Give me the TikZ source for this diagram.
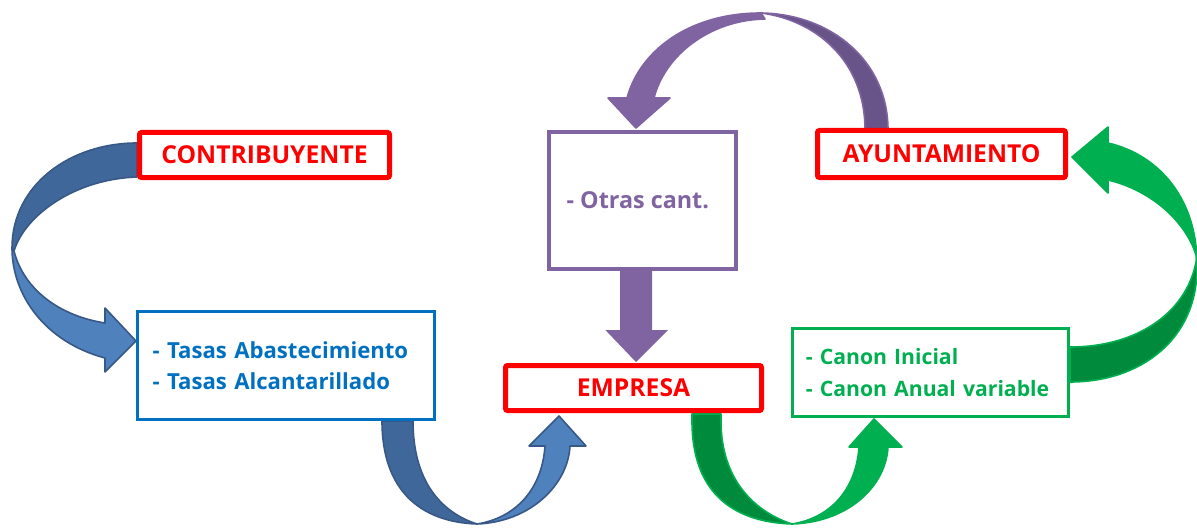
\documentclass[tikz,border=0pt]{standalone}
\usepackage{fontspec}
\setmainfont{Open Sans}
\usetikzlibrary{backgrounds}
\definecolor{boxred}{RGB}{255,0,0}
\definecolor{boxblue}{RGB}{0,112,192}
\definecolor{boxpurple}{RGB}{128,100,162}
\definecolor{boxgreen}{RGB}{0,176,80}
\definecolor{arrblueL}{RGB}{79,129,189}
\definecolor{arrblueD}{RGB}{64,103,153}
\definecolor{arrblueB}{RGB}{56,88,135}
\definecolor{arrpurpleD}{RGB}{104,84,136}
\definecolor{arrgreenD}{RGB}{0,138,60}
\tikzset{
  redbox/.style={draw=boxred, line width=3.75pt, fill=white, rounded corners=1.5pt, text=boxred,
    font=\bfseries\fontsize{18.5}{22}\selectfont, inner sep=0pt},
  listbox/.style={fill=white, align=left, inner ysep=0pt},
  bluearrL/.style={fill=arrblueL, draw=arrblueB, line width=1.2pt, line join=round},
  bluearrD/.style={fill=arrblueD, draw=arrblueB, line width=1.2pt, line join=round},
  purplearrL/.style={fill=boxpurple, draw=boxpurple, line width=1.2pt, line join=round},
  purplearrD/.style={fill=arrpurpleD, draw=boxpurple, line width=1.2pt, line join=round},
  greenarrL/.style={fill=boxgreen, draw=boxgreen, line width=1.2pt, line join=round},
  greenarrD/.style={fill=arrgreenD, draw=boxgreen, line width=1.2pt, line join=round}
}
\begin{document}
\begin{tikzpicture}[x=0.75pt,y=-0.75pt]
\useasboundingbox (0,0) rectangle (1197,528);

% boxes
\node[redbox, minimum width=187.5pt, minimum height=33.75pt] (contrib) at (264.5,155) {CONTRIBUYENTE};
\node[redbox, minimum width=186pt, minimum height=35.25pt] (ayunt) at (941.5,154) {AYUNTAMIENTO};
\node[redbox, minimum width=192pt, minimum height=33.75pt] (empresa) at (633.5,388) {EMPRESA};
\node[listbox, draw=boxblue, line width=2.25pt, text=boxblue, minimum height=81pt,
      text width=200pt, inner xsep=11.4pt, font=\bfseries\fontsize{16.6}{23}\selectfont] (tasas) at (286,365.5)
      {- Tasas Abastecimiento\\- Tasas Alcantarillado};
\node[listbox, draw=boxgreen, line width=2.25pt, text=boxgreen, minimum height=66pt,
      text width=186.8pt, inner xsep=10.1pt, font=\bfseries\fontsize{15.9}{24}\selectfont] (canon) at (930.5,372.5)
      {- Canon Inicial\\- Canon Anual variable};
\node[listbox, draw=boxpurple, line width=3pt, text=boxpurple, align=center, minimum height=102.75pt,
      minimum width=140.25pt, inner xsep=0pt, font=\bfseries\fontsize{17.5}{22}\selectfont] (otras) at (642.5,200.5) {- Otras cant.\hspace*{7pt}};

% straight arrow otras -> empresa
\coordinate (pa) at (636,271);
\coordinate (pb) at (636,362);
\fill[boxpurple] ([xshift=-12pt]pa) -- ([xshift=12pt]pa) -- ([xshift=12pt]pb |- 0,330) -- ([xshift=24pt]pb |- 0,330)
  -- (pb) -- ([xshift=-23pt]pb |- 0,330) -- ([xshift=-12pt]pb |- 0,330) -- cycle;

\begin{scope}[on background layer]
% contribuyente -> tasas
\draw[bluearrD] (137,143) .. controls (70,143) and (12,185) .. (12,248)
  -- (14,251) .. controls (25,215) and (75,179) .. (137,177) -- cycle;
\draw[bluearrL] (12,248) .. controls (12,295) and (45,342) .. (105,358) -- (105,372) -- (136,341)
  -- (105,308) -- (105,323) .. controls (60,316) and (24,290) .. (14,251) -- cycle;
% tasas -> empresa
\draw[bluearrD] (382,421) .. controls (382,490) and (420,522) .. (477,524)
  .. controls (440,512) and (413,480) .. (413,421) -- cycle;
\draw[bluearrL] (477,524) .. controls (530,522) and (568,485) .. (570,446) -- (586,446) -- (559,416)
  -- (529,446) -- (545,446) .. controls (542,490) and (515,518) .. (477,524) -- cycle;
% empresa -> canon
\draw[greenarrD] (692,414) -- (692,421) .. controls (692,490) and (730,522) .. (792,524)
  .. controls (755,512) and (721,480) .. (721,421) -- (721,414) -- cycle;
\draw[greenarrL] (792,524) .. controls (850,522) and (886,485) .. (888,447) -- (902,447) -- (874,419)
  -- (849,447) -- (859,447) .. controls (856,490) and (830,518) .. (792,524) -- cycle;
% canon -> ayuntamiento
\draw[greenarrD] (1070,382) .. controls (1140,382) and (1197,340) .. (1197,268)
  -- (1197,256) .. controls (1190,310) and (1140,347) .. (1070,347) -- cycle;
\draw[greenarrL] (1197,264) .. controls (1197,200) and (1160,155) .. (1108,143) -- (1108,127)
  -- (1072,157) -- (1108,193) -- (1108,180) .. controls (1150,190) and (1185,220) .. (1196,255) -- cycle;
% ayuntamiento -> otras
\draw[purplearrD] (888,130) .. controls (888,60) and (830,14) .. (761,13)
  .. controls (815,20) and (865,60) .. (865,130) -- cycle;
\draw[purplearrL] (761,13) .. controls (690,13) and (640,50) .. (627,98) -- (608,98) -- (636,128)
  -- (670,98) -- (654,98) .. controls (665,55) and (710,20) .. (765,19) -- cycle;
\end{scope}
\end{tikzpicture}
\end{document}
